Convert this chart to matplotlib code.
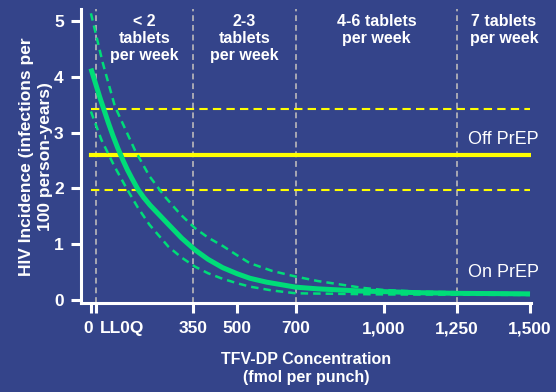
import matplotlib.pyplot as plt
import matplotlib.transforms as mtransforms
import numpy as np

plt.rcParams['font.family'] = ['Liberation Sans', 'DejaVu Sans']

bg = '#34448A'
green = '#00DC78'
yellow = '#FFFF00'
grey = '#A8A8B4'

# TFV-DP concentration (fmol per punch) and incidence (per 100 person-years)
conc_main = [0, 30, 60, 75, 92, 110, 125, 140, 161, 180, 202, 264, 310, 355, 400, 450,
             500, 543, 600, 700, 775, 850, 925, 1000, 1125, 1250, 1500]
inc_main = [4.15, 3.64, 3.17, 2.95, 2.72, 2.50, 2.33, 2.18, 1.98, 1.84, 1.70, 1.36, 1.11,
            0.90, 0.73, 0.58, 0.47, 0.39, 0.32, 0.23, 0.20, 0.18, 0.16, 0.15, 0.13, 0.12, 0.11]

conc_upper = [0, 40, 82, 150, 200, 253, 305, 355, 400, 450, 500, 543, 620, 700,
              775, 850, 925, 1000, 1125, 1250, 1500]
inc_upper = [5.14, 4.26, 3.47, 2.69, 2.22, 1.85, 1.54, 1.29, 1.12, 0.97, 0.80, 0.66,
             0.52, 0.42, 0.34, 0.28, 0.22, 0.18, 0.15, 0.14, 0.12]

conc_lower = [0, 36, 80, 122, 160, 200, 264, 310, 355, 400, 450, 500, 543, 620,
              700, 850, 1000, 1500]
inc_lower = [3.38, 2.87, 2.40, 2.00, 1.66, 1.35, 0.96, 0.76, 0.60, 0.48, 0.38, 0.30,
             0.24, 0.17, 0.12, 0.11, 0.10, 0.09]

off_prep = 2.6
off_prep_lo = 1.98
off_prep_hi = 3.43

lloq = 17
cutoffs = [lloq, 350, 700, 1250]
tick_pos = [0, lloq, 350, 500, 700, 1000, 1250, 1500]
tick_lab = ['0', 'LL0Q', '350', '500', '700', '1,000', '1,250', '1,500']
band_x = [183, 525, 975, 1411]
band_txt = ['< 2\ntablets\nper week', '2-3\ntablets\nper week',
            '4-6 tablets\nper week', '7 tablets\nper week']

fig = plt.figure(figsize=(5.56, 3.92), dpi=100, facecolor=bg)
ax = fig.add_axes([0.1451, 0.227, 0.8108, 0.749], facecolor=bg)

for c in cutoffs:
    ax.axvline(c, color=grey, lw=1.4, ls=(0, (3, 2)), zorder=1)

ax.plot([0, 1500], [off_prep, off_prep], color=yellow, lw=3, zorder=2)
ax.plot([0, 1500], [off_prep_lo, off_prep_lo], color=yellow, lw=1.5, ls=(0, (4, 2.5)), zorder=2)
ax.plot([0, 1500], [off_prep_hi, off_prep_hi], color=yellow, lw=1.5, ls=(0, (4, 2.5)), zorder=2)

ax.plot(conc_upper, inc_upper, color=green, lw=1.8, ls=(0, (3, 2)), zorder=3)
ax.plot(conc_lower, inc_lower, color=green, lw=1.8, ls=(0, (3, 2)), zorder=3)
ax.plot(conc_main, inc_main, color=green, lw=3.6, zorder=4, solid_capstyle='butt')

ax.text(1530, 2.88, 'Off PrEP', color='white', fontsize=13, ha='right', va='center')
ax.text(1530, 0.5, 'On PrEP', color='white', fontsize=13, ha='right', va='center')

for x, t in zip(band_x, band_txt):
    ax.text(x, 5.12, t, color='white', fontsize=11.5, fontweight='bold',
            ha='center', va='top', linespacing=1.15)

ax.set_xlim(-35, 1505)
ax.set_ylim(-0.054, 5.21)
ax.set_xticks(tick_pos)
ax.set_xticklabels(tick_lab)
ax.set_yticks([0, 1, 2, 3, 4, 5])

for s in ['top', 'right']:
    ax.spines[s].set_visible(False)
for s in ['left', 'bottom']:
    ax.spines[s].set_color('white')
    ax.spines[s].set_linewidth(2.2)

ax.tick_params(colors='white', width=2.2, length=7.2, labelsize=12.5, pad=5)
ax.tick_params(axis='x', pad=6)
for lab in ax.get_xticklabels() + ax.get_yticklabels():
    lab.set_fontweight('bold')

# nudge the first two labels apart like the original
xl = ax.get_xticklabels()
xl[0].set_transform(xl[0].get_transform() + mtransforms.ScaledTranslation(-2 / 72, 0, fig.dpi_scale_trans))
xl[1].set_horizontalalignment('left')
xl[1].set_transform(xl[1].get_transform() + mtransforms.ScaledTranslation(3 / 72, 0, fig.dpi_scale_trans))

ax.set_xlabel('TFV-DP Concentration\n(fmol per punch)', color='white',
              fontsize=11.5, fontweight='bold', linespacing=1.3, labelpad=11)
ax.set_ylabel('HIV Incidence (infections per\n100 person-years)', color='white',
              fontsize=12.5, fontweight='bold', linespacing=1.3, labelpad=1)

fig.savefig('out.png', dpi=100, facecolor=bg)
